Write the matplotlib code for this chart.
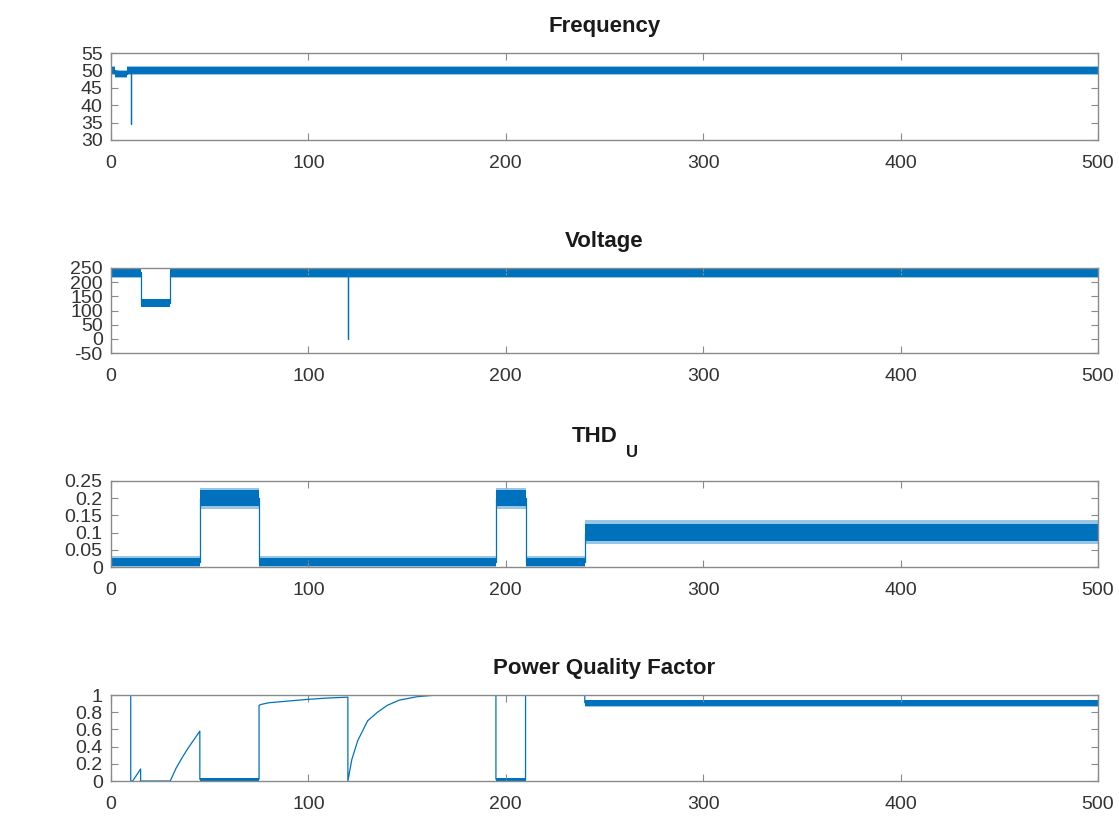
import matplotlib
matplotlib.use("Agg")
import matplotlib.pyplot as plt

# values
# thin trace lines: (x, y) points
freq_x = [0, 2, 2, 8, 8, 10, 10, 10, 500]
freq_y = [50.2, 50.2, 49.0, 49.0, 50.0, 50.0, 34.5, 50.0, 50.0]
# noisy bands: start, end, core low/high, spike low/high
freq_start = [0, 2, 8]
freq_end = [2, 8, 500]
freq_low = [49.0, 48.2, 48.9]
freq_high = [51.0, 49.8, 51.0]
freq_out_low = [48.6, 47.8, 48.6]
freq_out_high = [51.3, 50.2, 51.3]

volt_x = [0, 15, 15, 30, 30, 120, 120, 120, 500]
volt_y = [235, 235, 126, 126, 235, 235, 0, 235, 235]
volt_start = [0, 15, 30]
volt_end = [15, 30, 500]
volt_low = [220, 114, 220]
volt_high = [249, 139, 249]
volt_out_low = [216, 111, 216]
volt_out_high = [250, 141, 250]

thd_x = [0, 45, 45, 75, 75, 195, 195, 210, 210, 240, 240, 500]
thd_y = [0.015, 0.015, 0.2, 0.2, 0.015, 0.015, 0.2, 0.2, 0.015, 0.015, 0.1, 0.1]
thd_start = [0, 45, 75, 195, 210, 240]
thd_end = [45, 75, 195, 210, 240, 500]
thd_low = [0.002, 0.176, 0.002, 0.176, 0.002, 0.076]
thd_high = [0.027, 0.224, 0.027, 0.224, 0.027, 0.126]
thd_out_low = [0.0, 0.168, 0.0, 0.168, 0.0, 0.066]
thd_out_high = [0.032, 0.23, 0.032, 0.23, 0.032, 0.136]

pqf_x = [0, 10, 10, 11, 15, 15, 30, 33, 36, 39, 42, 45, 45, 75, 75, 76, 80, 90,
         100, 110, 120, 120, 122, 125, 130, 135, 140, 146, 155, 165, 195, 195,
         210, 210, 240, 240, 500]
pqf_y = [1, 1, 0, 0, 0.14, 0, 0, 0.15, 0.27, 0.38, 0.48, 0.58, 0.02, 0.02, 0.88,
         0.89, 0.91, 0.93, 0.95, 0.965, 0.975, 0, 0.25, 0.47, 0.7, 0.8, 0.88,
         0.94, 0.98, 1, 1, 0.02, 0.02, 1, 1, 0.91, 0.91]
pqf_start = [45, 195, 240]
pqf_end = [75, 210, 500]
pqf_low = [0.003, 0.003, 0.872]
pqf_high = [0.032, 0.032, 0.938]
pqf_out_low = [0.0, 0.0, 0.86]
pqf_out_high = [0.04, 0.04, 0.945]

x_ticks = [0, 100, 200, 300, 400, 500]

blue = "#0072BD"
edge = "#8a8a8a"

plt.rcParams["font.family"] = ["Liberation Sans", "DejaVu Sans"]

fig = plt.figure(figsize=(11.19, 8.18), dpi=100)

panels = [
    ("Frequency", freq_x, freq_y, freq_start, freq_end, freq_low, freq_high,
     freq_out_low, freq_out_high, (30, 55), [30, 35, 40, 45, 50, 55],
     ["30", "35", "40", "45", "50", "55"], 140, 87),
    ("Voltage", volt_x, volt_y, volt_start, volt_end, volt_low, volt_high,
     volt_out_low, volt_out_high, (-50, 250), [-50, 0, 50, 100, 150, 200, 250],
     ["-50", "0", "50", "100", "150", "200", "250"], 353, 85),
    ("", thd_x, thd_y, thd_start, thd_end, thd_low, thd_high,
     thd_out_low, thd_out_high, (0, 0.25), [0, 0.05, 0.1, 0.15, 0.2, 0.25],
     ["0", "0.05", "0.1", "0.15", "0.2", "0.25"], 567, 86),
    ("Power Quality Factor", pqf_x, pqf_y, pqf_start, pqf_end, pqf_low, pqf_high,
     pqf_out_low, pqf_out_high, (0, 1), [0, 0.2, 0.4, 0.6, 0.8, 1],
     ["0", "0.2", "0.4", "0.6", "0.8", "1"], 781, 86),
]

W, H = 1119, 818
for (title, tx, ty, bs, be, bl, bh, ol, oh, ylim, yt, ytl, bot, hgt) in panels:
    ax = fig.add_axes([111 / W, 1 - bot / H, 987 / W, hgt / H])
    for s, e, lo, hi, olo, ohi in zip(bs, be, bl, bh, ol, oh):
        ax.fill_between([s, e], [olo, olo], [ohi, ohi], color=blue, alpha=0.4,
                        linewidth=0)
        ax.fill_between([s, e], [lo, lo], [hi, hi], color=blue, linewidth=0)
    ax.plot(tx, ty, color=blue, linewidth=0.9)
    ax.set_xlim(0, 500)
    ax.set_ylim(*ylim)
    ax.set_xticks(x_ticks)
    ax.set_yticks(yt)
    ax.set_yticklabels(ytl)
    ax.tick_params(direction="in", top=True, right=True, length=5, width=0.8,
                   color=edge, labelsize=14, labelcolor="#333333")
    ax.tick_params(axis="x", pad=11)
    ax.tick_params(axis="y", pad=6)
    for sp in ax.spines.values():
        sp.set_color(edge)
        sp.set_linewidth(1.0)
    if title:
        ax.set_title(title, fontsize=16, fontweight="bold", pad=15,
                     color="#1a1a1a")
    else:
        ax.annotate("THD", xy=(0.4899, 1), xycoords="axes fraction",
                    xytext=(0, 28), textcoords="offset points", ha="center",
                    va="baseline", fontsize=16, fontweight="bold", color="#1a1a1a")
        ax.annotate("U", xy=(0.5274, 1), xycoords="axes fraction",
                    xytext=(0, 17), textcoords="offset points", ha="center",
                    va="baseline", fontsize=12, fontweight="bold", color="#1a1a1a")

fig.savefig("out.png", dpi=100)
